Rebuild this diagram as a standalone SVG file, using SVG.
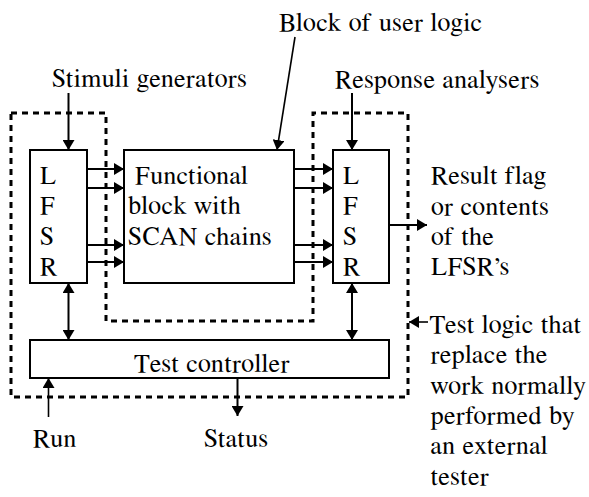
<svg xmlns="http://www.w3.org/2000/svg" width="589" height="497" viewBox="0 0 589 497">
<style>
.t{font-size:26px;fill:#000;letter-spacing:0.5px}
.box{fill:#fff;stroke:#000;stroke-width:2}
.ln{stroke:#000;stroke-width:2;fill:none}
.thin{stroke:#000;stroke-width:1.6;fill:none}
.dash{stroke:#000;stroke-width:3;fill:none;stroke-dasharray:6 5}
</style>
<defs>
<marker id="ah" markerUnits="userSpaceOnUse" markerWidth="11" markerHeight="12" refX="10" refY="6" orient="auto-start-reverse" viewBox="0 0 11 12">
<path d="M0,0 L10,6 L0,12 z" fill="#000"/>
</marker>
</defs>
<rect width="589" height="497" fill="#fff"/>
<g id="test-logic-boundary">
<path class="dash" d="M11,113 H106 V321 H313 V113 H408 V397 H11 Z"/>
</g>
<g id="lfsr-left" class="t" font-family="FreeSerif, Times, serif">
<rect class="box" x="30" y="150" width="57" height="133"/>
<text x="40" y="183.5">L</text>
<text x="40" y="214">F</text>
<text x="40" y="244.5">S</text>
<text x="40" y="275">R</text>
</g>
<g id="functional-block" class="t" font-family="FreeSerif, Times, serif">
<rect class="box" x="124" y="150" width="170" height="133"/>
<text x="135" y="183.5">Functional</text>
<text x="128" y="214">block with</text>
<text x="128" y="244.5">SCAN chains</text>
</g>
<g id="lfsr-right" class="t" font-family="FreeSerif, Times, serif">
<rect class="box" x="333" y="150" width="56" height="133"/>
<text x="343" y="183.5">L</text>
<text x="343" y="214">F</text>
<text x="343" y="244.5">S</text>
<text x="343" y="275">R</text>
</g>
<g id="test-controller" class="t" font-family="FreeSerif, Times, serif">
<rect class="box" x="30" y="340" width="359" height="38"/>
<text x="212" y="371.5" text-anchor="middle">Test controller</text>
</g>
<g id="labels" class="t" font-family="FreeSerif, Times, serif">
<text x="52" y="87">Stimuli generators</text>
<text x="279" y="31">Block of user logic</text>
<text x="335" y="88">Response analysers</text>
<text x="431" y="184">Result flag</text>
<text x="431" y="214.5">or contents</text>
<text x="431" y="245">of the</text>
<text x="431" y="275">LFSR’s</text>
<text x="429.5" y="333">Test logic that</text>
<text x="430.5" y="363">replace the</text>
<text x="430.5" y="393.5">work normally</text>
<text x="430.5" y="424">performed by</text>
<text x="430.5" y="454">an external</text>
<text x="430.5" y="484.5">tester</text>
<text x="33" y="447">Run</text>
<text x="204" y="447">Status</text>
</g>
<g id="connectors">
<line class="ln" x1="68.5" y1="93" x2="68.5" y2="150" marker-end="url(#ah)"/>
<line class="thin" x1="295" y1="37" x2="277" y2="150" marker-end="url(#ah)"/>
<line class="ln" x1="352" y1="93" x2="352" y2="150" marker-end="url(#ah)"/>
<line class="ln" x1="87" y1="169" x2="124" y2="169" marker-end="url(#ah)"/>
<line class="ln" x1="87" y1="188" x2="124" y2="188" marker-end="url(#ah)"/>
<line class="ln" x1="87" y1="245" x2="124" y2="245" marker-end="url(#ah)"/>
<line class="ln" x1="87" y1="262" x2="124" y2="262" marker-end="url(#ah)"/>
<line class="ln" x1="294" y1="169" x2="333" y2="169" marker-end="url(#ah)"/>
<line class="ln" x1="294" y1="188" x2="333" y2="188" marker-end="url(#ah)"/>
<line class="ln" x1="294" y1="245" x2="333" y2="245" marker-end="url(#ah)"/>
<line class="ln" x1="294" y1="262" x2="333" y2="262" marker-end="url(#ah)"/>
<line class="ln" x1="389" y1="225" x2="427" y2="225" marker-end="url(#ah)"/>
<line class="ln" x1="68.5" y1="283" x2="68.5" y2="340" marker-start="url(#ah)" marker-end="url(#ah)"/>
<line class="ln" x1="352" y1="283" x2="352" y2="340" marker-start="url(#ah)" marker-end="url(#ah)"/>
<line class="thin" x1="48.5" y1="417" x2="48.5" y2="378" marker-end="url(#ah)"/>
<line class="ln" x1="237.5" y1="378" x2="237.5" y2="416" marker-end="url(#ah)"/>
<line class="thin" x1="428" y1="322" x2="409" y2="322" marker-end="url(#ah)"/>
</g>
</svg>
